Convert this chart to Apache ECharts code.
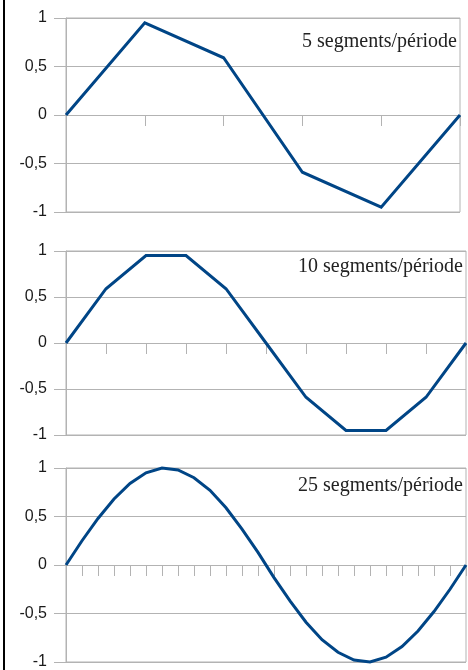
<!DOCTYPE html>
<html>
<head>
<meta charset="utf-8">
<script src="https://cdn.jsdelivr.net/npm/echarts@6/dist/echarts.min.js"></script>
<style>
html,body{margin:0;padding:0;background:#fff;}
#c{width:468px;height:670px;}
</style>
</head>
<body>
<div id="c"></div>
<script>
// Data
const titles = ['5 segments/période', '10 segments/période', '25 segments/période'];
const yTicks = [-1, -0.5, 0, 0.5, 1];
const seg5 = [0, 0.95, 0.59, -0.59, -0.95, 0];
const seg10 = [0, 0.59, 0.95, 0.95, 0.59, 0, -0.59, -0.95, -0.95, -0.59, 0];
const seg25 = [0, 0.25, 0.48, 0.68, 0.84, 0.95, 1.0, 0.98, 0.9, 0.77, 0.59, 0.37, 0.13,
               -0.13, -0.37, -0.59, -0.77, -0.9, -0.98, -1.0, -0.95, -0.84, -0.68, -0.48, -0.25, 0];
const seriesList = [seg5, seg10, seg25];

const gridBoxes = [
  {left: 66, right: 8, top: 18, height: 194},
  {left: 66, right: 2, top: 251, height: 184},
  {left: 66, right: 2, top: 468, height: 201}
];
const titlePos = [
  {right: 11, top: 32},
  {right: 5, top: 257},
  {right: 5, top: 476}
];

const GRAY = '#b3b3b3';
const BLUE = '#004586';

const chart = echarts.init(document.getElementById('c'), null, {renderer: 'canvas'});

const grid = [], xAxis = [], yAxis = [], series = [], title = [];
seriesList.forEach((vals, i) => {
  grid.push(Object.assign({show: true, borderColor: GRAY, borderWidth: 1, backgroundColor: 'transparent'}, gridBoxes[i]));
  xAxis.push({
    type: 'value', gridIndex: i, min: 0, max: vals.length - 1, interval: 1,
    axisLine: {onZero: true, lineStyle: {color: GRAY, width: 1}},
    axisTick: {show: true, length: 11, inside: false, lineStyle: {color: GRAY, width: 1}},
    axisLabel: {show: false},
    splitLine: {show: false}
  });
  yAxis.push({
    type: 'value', gridIndex: i, min: yTicks[0], max: yTicks[yTicks.length - 1], interval: 0.5,
    axisLine: {show: true, lineStyle: {color: GRAY, width: 1}},
    axisTick: {show: true, length: 12, lineStyle: {color: GRAY, width: 1}},
    axisLabel: {
      margin: 19, color: '#1a1a1a', fontSize: 16, fontFamily: 'Arial',
      formatter: v => String(v).replace('.', ',')
    },
    splitLine: {show: true, lineStyle: {color: GRAY, width: 1}}
  });
  series.push({
    type: 'line', xAxisIndex: i, yAxisIndex: i,
    data: vals.map((v, k) => [k, v]),
    symbol: 'none', lineStyle: {color: BLUE, width: 3, join: 'miter'},
    animation: false, clip: false
  });
  title.push(Object.assign({
    text: titles[i],
    textStyle: {fontFamily: '"Liberation Serif", "Times New Roman", serif', fontWeight: 'normal', fontSize: 20, color: '#222'},
    padding: 0
  }, titlePos[i]));
});

chart.setOption({
  animation: false,
  title, grid, xAxis, yAxis, series,
  graphic: [{
    type: 'line', shape: {x1: 4, y1: 0, x2: 4, y2: 670},
    style: {stroke: '#000', lineWidth: 2}
  }]
});
</script>
</body>
</html>
